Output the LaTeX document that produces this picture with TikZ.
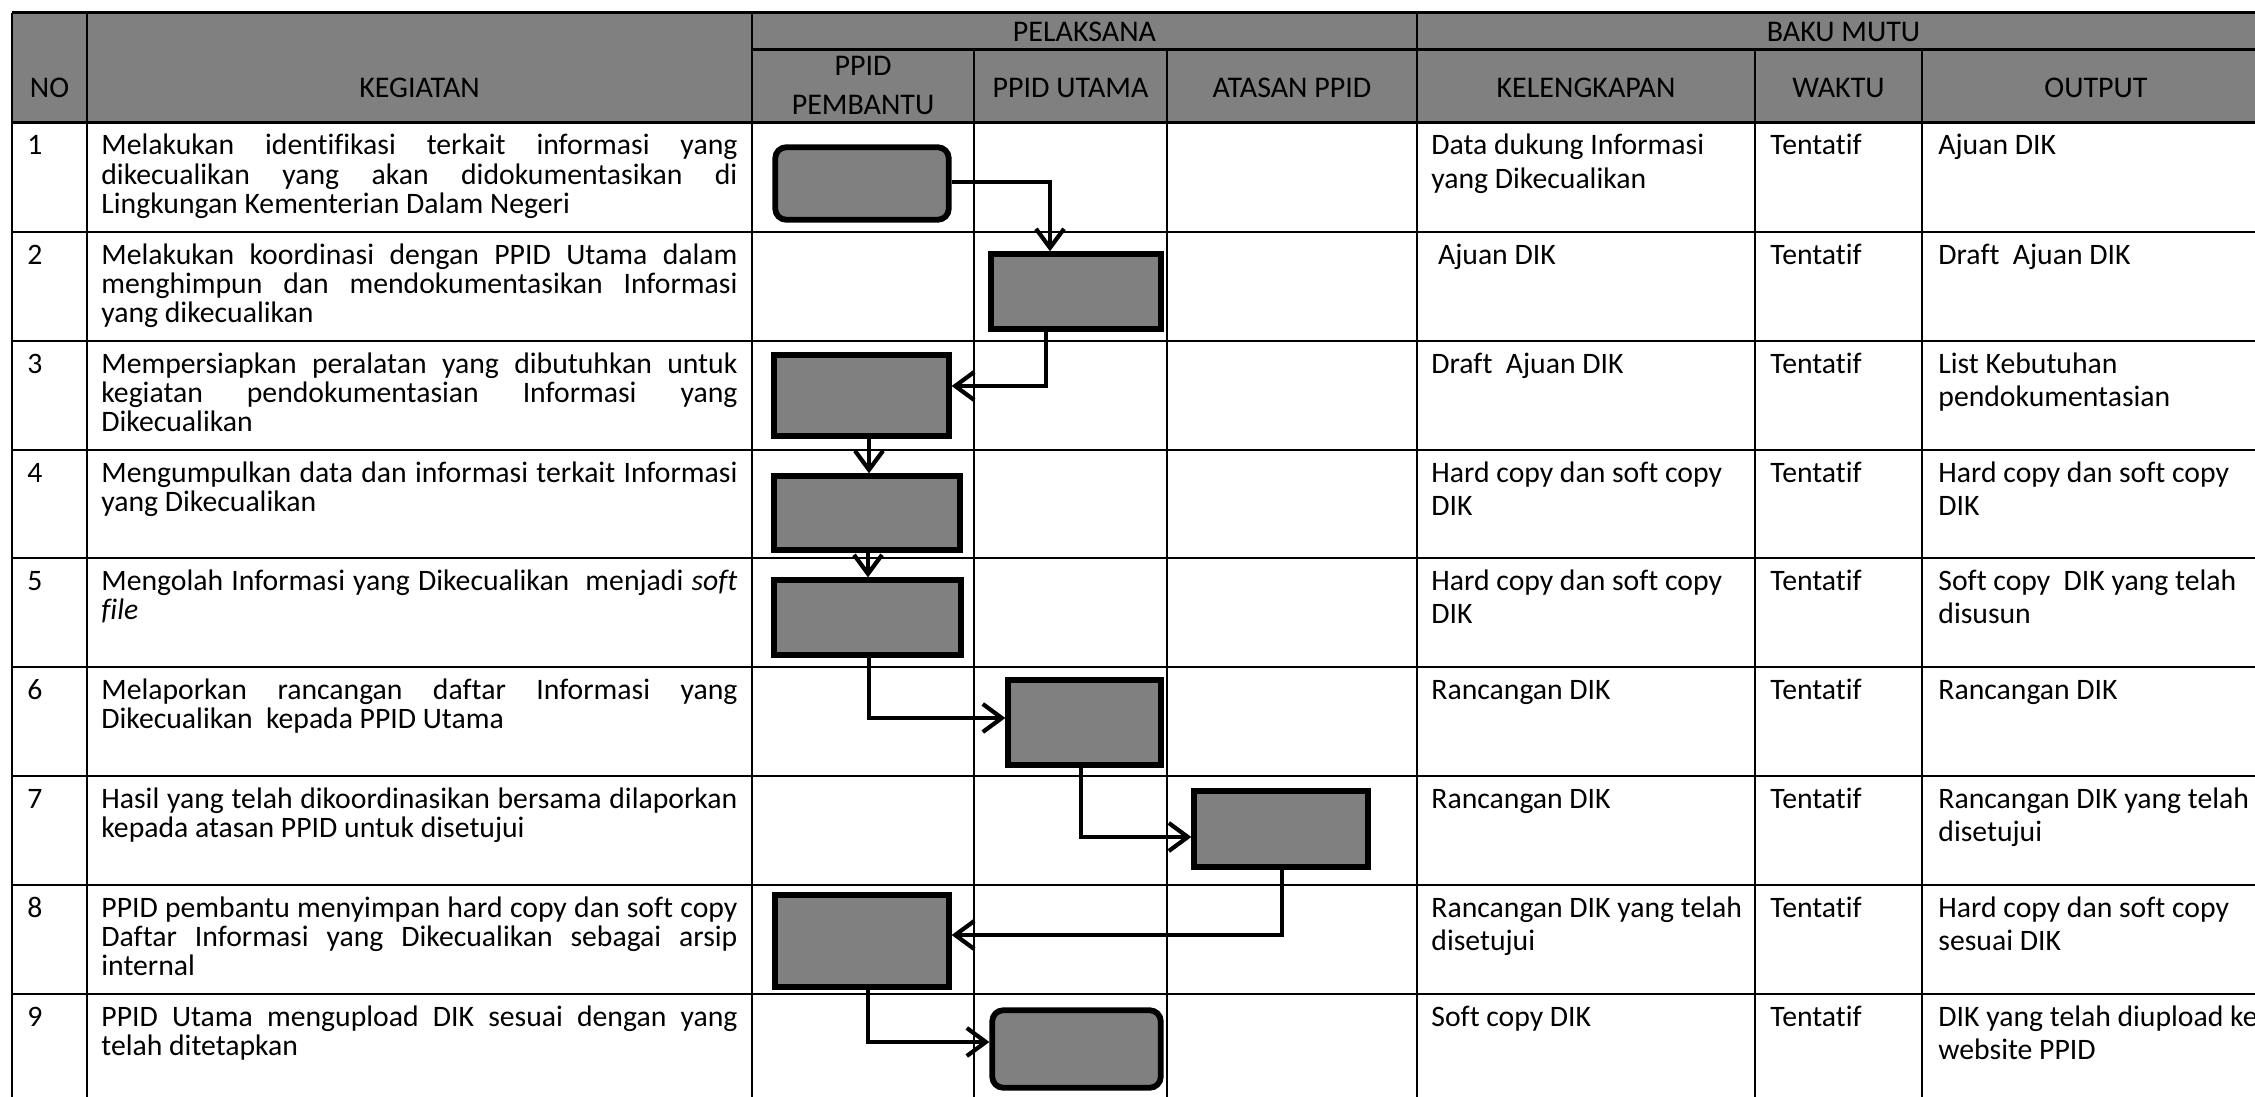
\documentclass[tikz,border=0pt]{standalone}
\usepackage{fontspec}
\setmainfont{Carlito}[Ligatures=NoCommon]
\usetikzlibrary{arrows.meta}
\definecolor{hdr}{HTML}{808080}
\newlength\kw \setlength\kw{318pt}
\newcommand\jl[1]{\hbox to \kw{#1}}
\newcommand\nl[1]{\hbox{#1}}
\begin{document}
\begin{tikzpicture}[x=0.5pt,y=-0.5pt,
  tline/.style={line width=1.35pt},
  hline/.style={line width=1.5pt},
  fbox/.style={draw, line width=2.9pt, fill=hdr, inner sep=0pt},
  rbox/.style={fbox, rounded corners=5.5pt},
  arr/.style={line width=2.1pt, -{Straight Barb[length=9.5pt,width=14pt]}},
  hd/.style={inner sep=0pt, anchor=base, font=\fontsize{15}{20}\selectfont},
  kg/.style={inner sep=0pt, anchor=base west, font=\fontsize{14.85}{14.7}\selectfont},
  tx/.style={inner sep=0pt, anchor=base west, font=\fontsize{14.85}{16.6}\selectfont},
]
\useasboundingbox (0,0) rectangle (2255,1097);
\fill[white] (0,0) rectangle (2255,1097);
% header background
\fill[hdr] (12,13) rectangle (2270,123);
% table lines
\draw[hline] (12,13) -- (2270,13);
\draw[hline] (752,50) -- (2270,50);
\draw[hline] (12,123) -- (2270,123);
\foreach \y in {232,341,450,558,667,776,885,994} \draw[tline] (12,\y) -- (2270,\y);
\foreach \x in {12,87,752,1417} \draw[tline] (\x,13) -- (\x,1110);
\foreach \x in {974,1167,1755,1922} \draw[tline] (\x,50) -- (\x,1110);
% header text
\node[hd] (hno) at (49.5,98) {NO};
\node[hd] (hkeg) at (419.5,98) {KEGIATAN};
\node[hd] (hpel) at (1084.5,42) {PELAKSANA};
\node[hd] (hbaku) at (1843.5,42) {BAKU MUTU};
\node[hd] (hpemba) at (863,76) {PPID};
\node[hd] (hpembb) at (863,115) {PEMBANTU};
\node[hd] (hutama) at (1070.5,98) {PPID UTAMA};
\node[hd] (hatasan) at (1292,98) {ATASAN PPID};
\node[hd] (hkel) at (1586,98) {KELENGKAPAN};
\node[hd] (hwaktu) at (1838.5,98) {WAKTU};
\node[hd] (hout) at (2096,98) {OUTPUT};
% NO column
\node[tx] (n1) at (27,155) {1};
\node[tx] (n2) at (27,264) {2};
\node[tx] (n3) at (27,373) {3};
\node[tx] (n4) at (27,482) {4};
\node[tx] (n5) at (27,590) {5};
\node[tx] (n6) at (27,699) {6};
\node[tx] (n7) at (27,808) {7};
\node[tx] (n8) at (27,917) {8};
\node[tx] (n9) at (27,1026) {9};
% KEGIATAN column
\node[kg] (k1) at (101,155) {\vtop{\jl{Melakukan identifikasi terkait informasi yang}\jl{dikecualikan yang akan didokumentasikan di}\nl{Lingkungan Kementerian Dalam Negeri}}};
\node[kg] (k2) at (101,264) {\vtop{\jl{Melakukan koordinasi dengan PPID Utama dalam}\jl{menghimpun dan mendokumentasikan Informasi}\nl{yang dikecualikan}}};
\node[kg] (k3) at (101,373) {\vtop{\jl{Mempersiapkan peralatan yang dibutuhkan untuk}\jl{kegiatan pendokumentasian Informasi yang}\nl{Dikecualikan}}};
\node[kg] (k4) at (101,482) {\vtop{\jl{Mengumpulkan data dan informasi terkait Informasi}\nl{yang Dikecualikan}}};
\node[kg] (k5) at (101,590) {\vtop{\jl{Mengolah Informasi yang Dikecualikan\ \ menjadi \textit{soft}}\nl{\textit{file}}}};
\node[kg] (k6) at (101,699) {\vtop{\jl{Melaporkan rancangan daftar Informasi yang}\nl{Dikecualikan\ \ kepada PPID Utama}}};
\node[kg] (k7) at (101,808) {\vtop{\jl{Hasil yang telah dikoordinasikan bersama dilaporkan}\nl{kepada atasan PPID untuk disetujui}}};
\node[kg] (k8) at (101,917) {\vtop{\jl{PPID pembantu menyimpan hard copy dan soft copy}\jl{Daftar Informasi yang Dikecualikan sebagai arsip}\nl{internal}}};
\node[kg] (k9) at (101,1026) {\vtop{\jl{PPID Utama mengupload DIK sesuai dengan yang}\nl{telah ditetapkan}}};
% KELENGKAPAN column
\node[tx] (l1) at (1431,155) {\vtop{\nl{Data dukung Informasi}\nl{yang Dikecualikan}}};
\node[tx] (l2) at (1431,264) {\ Ajuan DIK};
\node[tx] (l3) at (1431,373) {Draft\ \ Ajuan DIK};
\node[tx] (l4) at (1431,482) {\vtop{\nl{Hard copy dan soft copy}\nl{DIK}}};
\node[tx] (l5) at (1431,590) {\vtop{\nl{Hard copy dan soft copy}\nl{DIK}}};
\node[tx] (l6) at (1431,699) {Rancangan DIK};
\node[tx] (l7) at (1431,808) {Rancangan DIK};
\node[tx] (l8) at (1431,917) {\vtop{\nl{Rancangan DIK yang telah}\nl{disetujui}}};
\node[tx] (l9) at (1431,1026) {Soft copy DIK};
% WAKTU column
\node[tx] (w1) at (1770,155) {Tentatif};
\node[tx] (w2) at (1770,264) {Tentatif};
\node[tx] (w3) at (1770,373) {Tentatif};
\node[tx] (w4) at (1770,482) {Tentatif};
\node[tx] (w5) at (1770,590) {Tentatif};
\node[tx] (w6) at (1770,699) {Tentatif};
\node[tx] (w7) at (1770,808) {Tentatif};
\node[tx] (w8) at (1770,917) {Tentatif};
\node[tx] (w9) at (1770,1026) {Tentatif};
% OUTPUT column
\node[tx] (o1) at (1938,155) {Ajuan DIK};
\node[tx] (o2) at (1938,264) {Draft\ \ Ajuan DIK};
\node[tx] (o3) at (1938,373) {\vtop{\nl{List Kebutuhan}\nl{pendokumentasian}}};
\node[tx] (o4) at (1938,482) {\vtop{\nl{Hard copy dan soft copy}\nl{DIK}}};
\node[tx] (o5) at (1938,590) {\vtop{\nl{Soft copy\ \ DIK yang telah}\nl{disusun}}};
\node[tx] (o6) at (1938,699) {Rancangan DIK};
\node[tx] (o7) at (1938,808) {\vtop{\nl{Rancangan DIK yang telah}\nl{disetujui}}};
\node[tx] (o8) at (1938,917) {\vtop{\nl{Hard copy dan soft copy}\nl{sesuai DIK}}};
\node[tx] (o9) at (1938,1026) {\vtop{\nl{DIK yang telah diupload ke}\nl{website PPID}}};
% flowchart boxes
\node[rbox, minimum width=86.75pt, minimum height=36.25pt] (b1) at (862,183.5) {};
\node[fbox, minimum width=84.75pt, minimum height=37.25pt] (b2) at (1076,291.5) {};
\node[fbox, minimum width=87.25pt, minimum height=40.25pt] (b3) at (861.5,395.5) {};
\node[fbox, minimum width=92.75pt, minimum height=36.75pt] (b4) at (867,513) {};
\node[fbox, minimum width=93.25pt, minimum height=37.25pt] (b5) at (867.5,617.5) {};
\node[fbox, minimum width=76.25pt, minimum height=42.25pt] (b6) at (1084.5,722.5) {};
\node[fbox, minimum width=86.75pt, minimum height=37.75pt] (b7) at (1281,829) {};
\node[fbox, minimum width=86.75pt, minimum height=45.75pt] (b8) at (862,941) {};
\node[rbox, minimum width=84.25pt, minimum height=38.75pt] (b9) at (1076.5,1049) {};
% bend points
\coordinate (c1) at (1050,182);
\coordinate (c2) at (1046,386);
\coordinate (c3) at (869,0);
\coordinate (c4) at (868,0);
\coordinate (c5) at (869,718);
\coordinate (c6) at (1081,837);
\coordinate (c7) at (1282,935);
\coordinate (c8) at (868,1042);
% connectors
\draw[arr] (b1.east |- c1) -- (c1) -- (b2.north -| c1);
\draw[arr] (b2.south -| c2) -- (c2) -- (b3.east |- c2);
\draw[arr] (b3.south -| c3) -- (b4.north -| c3);
\draw[arr] (b4.south -| c4) -- (b5.north -| c4);
\draw[arr] (b5.south -| c5) -- (c5) -- (b6.west |- c5);
\draw[arr] (b6.south -| c6) -- (c6) -- (b7.west |- c6);
\draw[arr] (b7.south -| c7) -- (c7) -- (b8.east |- c7);
\draw[arr] (b8.south -| c8) -- (c8) -- (b9.west |- c8);
\end{tikzpicture}
\end{document}
